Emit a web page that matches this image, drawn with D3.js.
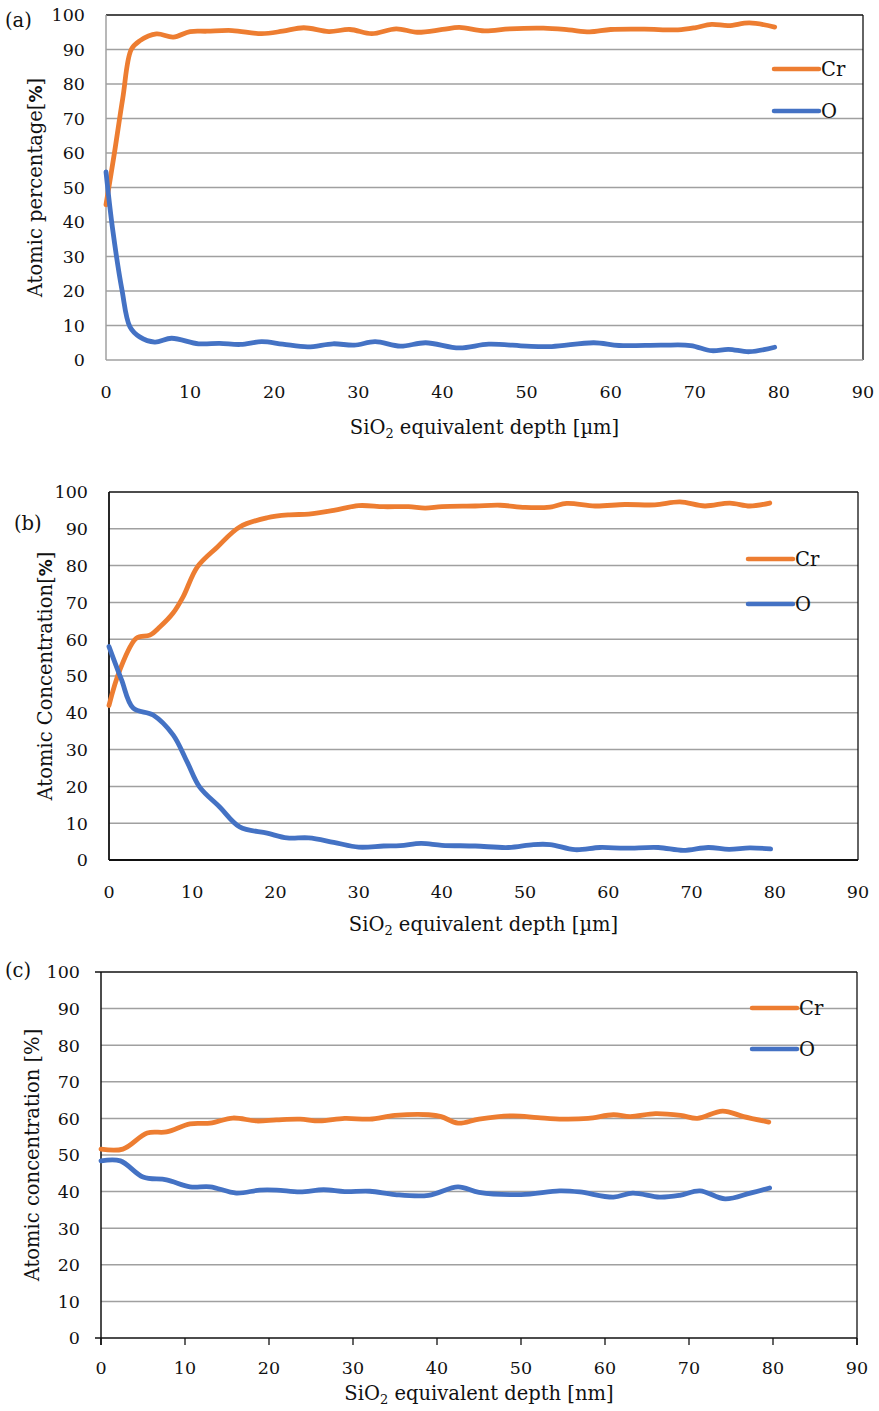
<!DOCTYPE html>
<html>
<head>
<meta charset="utf-8">
<script src="https://cdn.jsdelivr.net/npm/d3@7"></script>
<style>
  body { margin: 0; background: #fff; }
  svg text { font-family: "DejaVu Serif", "Liberation Serif", serif; fill: #111; }
</style>
</head>
<body>
<div id="chart"></div>
<script>
// ---- data ----
const seriesNames = ['Cr', 'O'];
const yTicks = [0, 10, 20, 30, 40, 50, 60, 70, 80, 90, 100];
const xTicks = [0, 10, 20, 30, 40, 50, 60, 70, 80, 90];

// panel (a)
const aCrX = [0, 1, 2, 3, 4, 6, 8, 10, 12, 15, 18.5, 21, 23.5, 26.5, 29, 31.6, 34.5, 37, 40, 42, 45, 48, 52, 55, 57.5, 60, 64, 68, 70, 72, 74, 76.5, 79.5];
const aCrY = [45, 60, 76, 90, 92.5, 94.5, 93.6, 95.2, 95.3, 95.5, 94.6, 95.3, 96.3, 95.2, 95.8, 94.6, 96, 95, 95.8, 96.4, 95.4, 96, 96.2, 95.7, 95.1, 95.8, 95.9, 95.7, 96.3, 97.3, 96.9, 97.7, 96.5];
const aOX = [0, 0.8, 1.9, 2.85, 4, 5.8, 7.8, 11, 13.5, 16, 18.5, 21, 24, 27, 29.5, 32, 35, 38, 42, 45.5, 50, 53, 58, 61, 66, 69.5, 72, 74, 76.5, 79.5];
const aOY = [54.5, 37.7, 20.3, 9.6, 6.7, 5.2, 6.3, 4.7, 4.8, 4.5, 5.3, 4.6, 3.8, 4.7, 4.3, 5.3, 4, 5, 3.5, 4.6, 4, 3.9, 5, 4.2, 4.3, 4.2, 2.7, 3.1, 2.4, 3.7];

// panel (b)
const bCrX = [0, 1.3, 3.3, 4.9, 6.1, 7.7, 8.9, 10.6, 13, 15.7, 19, 21.7, 24, 27, 30, 33, 36, 38, 40, 44, 47, 50, 53, 55, 58.4, 62, 65.6, 68.6, 71.6, 74.6, 77, 79.4];
const bCrY = [42, 51.6, 60.3, 61.1, 63.3, 67.1, 71.5, 79.6, 85, 90.5, 93, 93.8, 94, 95, 96.3, 96, 96, 95.6, 96, 96.2, 96.4, 95.8, 95.9, 96.9, 96.2, 96.6, 96.5, 97.3, 96.2, 97, 96.2, 97];
const bOX = [0, 1.5, 2.9, 5.3, 7.7, 9.4, 10.9, 13.3, 15.7, 19, 21.4, 24, 27, 30, 33, 35, 37.5, 40, 44, 48, 51, 53, 56, 59, 62, 66, 69, 72, 74.5, 77, 79.5];
const bOY = [58, 49, 41.3, 39.4, 34, 26.6, 19.8, 14.4, 9, 7.3, 6, 6, 4.8, 3.5, 3.8, 3.9, 4.5, 4, 3.8, 3.4, 4.2, 4.2, 2.8, 3.4, 3.2, 3.4, 2.6, 3.4, 2.9, 3.3, 3];

// panel (c)
const cCrX = [0, 2.6, 5.5, 7.8, 10.6, 13, 15.7, 18.5, 20.9, 23.7, 26, 29, 32, 35, 39, 40.5, 42.5, 45, 49, 52, 55, 58, 61, 63, 66, 69, 71, 74, 76.5, 79.5];
const cCrY = [51.6, 51.6, 56, 56.3, 58.5, 58.7, 60.1, 59.3, 59.6, 59.8, 59.3, 60, 59.8, 60.8, 61, 60.5, 58.7, 59.8, 60.7, 60.2, 59.8, 60, 61, 60.5, 61.3, 60.8, 60, 62, 60.5, 59];
const cOX = [0, 2.3, 5, 7.8, 10.6, 13, 16.1, 18.9, 20.9, 23.7, 26.5, 29, 32, 35, 39, 42.5, 45, 50, 54.6, 57, 61, 63.3, 66.5, 68.9, 71.3, 74.3, 77.3, 79.6];
const cOY = [48.4, 48.4, 44, 43.2, 41.3, 41.3, 39.6, 40.4, 40.4, 39.9, 40.5, 40, 40.1, 39.2, 39, 41.3, 39.8, 39.2, 40.2, 39.9, 38.5, 39.6, 38.5, 39, 40.2, 38, 39.6, 41];

const colour = d3.scaleOrdinal().domain(seriesNames).range(['#ED7D31', '#4472C4']);
const tickSize = 17.5;
const titleSize = 19.5;

const svg = d3.select('#chart').append('svg')
  .attr('width', 879)
  .attr('height', 1411);

const zip = (xs, ys) => xs.map((x, i) => ({ x: x, y: ys[i] }));

function drawPanel(cfg) {
  const x = d3.scaleLinear().domain([0, 90]).range([cfg.left, cfg.right]);
  const y = d3.scaleLinear().domain([0, 100]).range([cfg.bottom, cfg.top]);
  const g = svg.append('g');

  // gridlines
  g.selectAll('.grid')
    .data(yTicks.filter(d => d > 0 && d < 100))
    .join('line')
      .attr('x1', cfg.left).attr('x2', cfg.right)
      .attr('y1', d => y(d)).attr('y2', d => y(d))
      .attr('stroke', '#a0a0a0')
      .attr('stroke-width', 1.5);

  // frame
  g.append('line').attr('x1', cfg.left - cfg.yTickOut).attr('x2', cfg.right)
    .attr('y1', cfg.top).attr('y2', cfg.top).attr('stroke', '#111').attr('stroke-width', 1.3);
  g.append('line').attr('x1', cfg.right).attr('x2', cfg.right)
    .attr('y1', cfg.top).attr('y2', cfg.bottom + cfg.xTickOut).attr('stroke', '#111').attr('stroke-width', 1.3);
  g.append('line').attr('x1', cfg.left).attr('x2', cfg.left)
    .attr('y1', cfg.top).attr('y2', cfg.bottom + cfg.xTickOut).attr('stroke', cfg.axisColour).attr('stroke-width', cfg.axisWidth);
  g.append('line').attr('x1', cfg.left - cfg.yTickOut).attr('x2', cfg.right)
    .attr('y1', cfg.bottom).attr('y2', cfg.bottom).attr('stroke', cfg.axisColour).attr('stroke-width', cfg.axisWidth);

  // x tick marks (panel c only)
  if (cfg.xTickOut > 0) {
    g.selectAll('.xtick')
      .data(xTicks)
      .join('line')
        .attr('x1', d => x(d)).attr('x2', d => x(d))
        .attr('y1', cfg.bottom).attr('y2', cfg.bottom + cfg.xTickOut)
        .attr('stroke', '#111').attr('stroke-width', 1.3);
  }

  // tick labels
  g.selectAll('.ylab')
    .data(yTicks)
    .join('text')
      .attr('x', cfg.yLabelX)
      .attr('y', d => y(d))
      .attr('dy', '0.36em')
      .attr('text-anchor', 'end')
      .attr('font-size', tickSize)
      .text(d => d);

  g.selectAll('.xlab')
    .data(xTicks)
    .join('text')
      .attr('x', d => x(d))
      .attr('y', cfg.xLabelY)
      .attr('dy', '0.36em')
      .attr('text-anchor', 'middle')
      .attr('font-size', tickSize)
      .text(d => d);

  // x title
  const xt = g.append('text')
    .attr('x', (cfg.left + cfg.right) / 2)
    .attr('y', cfg.xTitleY)
    .attr('dy', '0.36em')
    .attr('text-anchor', 'middle')
    .attr('font-size', titleSize);
  xt.append('tspan').text('SiO');
  xt.append('tspan').attr('font-size', 13).attr('dy', '0.3em').text('2');
  xt.append('tspan').attr('dy', '-0.2em').text(' equivalent depth ' + cfg.unit);

  // y title
  const yt = g.append('text')
    .attr('transform', `translate(${cfg.yTitleX}, ${(cfg.top + cfg.bottom) / 2}) rotate(-90)`)
    .attr('dy', '0.36em')
    .attr('text-anchor', 'middle')
    .attr('font-size', titleSize);
  yt.append('tspan').text(cfg.yTitle + '[');
  if (cfg.boldPct) {
    yt.append('tspan').attr('font-weight', 'bold').style('font-family', 'DejaVu Sans, sans-serif').attr('font-size', 17).text('%');
  } else {
    yt.append('tspan').text('%');
  }
  yt.append('tspan').text(']');

  // panel letter
  g.append('text')
    .attr('x', cfg.letterX).attr('y', cfg.letterY)
    .attr('dy', '0.36em')
    .attr('font-size', titleSize)
    .text(cfg.letter);

  // lines
  const line = d3.line()
    .x(d => x(d.x))
    .y(d => y(d.y))
    .curve(d3.curveCatmullRom.alpha(0.5));

  g.selectAll('.series')
    .data(cfg.series)
    .join('path')
      .attr('fill', 'none')
      .attr('stroke', d => colour(d.name))
      .attr('stroke-width', 4.8)
      .attr('stroke-linecap', 'round')
      .attr('stroke-linejoin', 'round')
      .attr('d', d => line(d.values));

  // legend
  const lg = g.selectAll('.legend')
    .data(cfg.series.map(d => d.name))
    .join('g')
      .attr('transform', (d, i) => `translate(${cfg.legendX}, ${cfg.legendY[i]})`);
  lg.append('line')
    .attr('x1', 0).attr('x2', 45)
    .attr('stroke', d => colour(d))
    .attr('stroke-width', 4.5)
    .attr('stroke-linecap', 'round');
  lg.append('text')
    .attr('x', 47)
    .attr('dy', '0.36em')
    .attr('font-size', titleSize)
    .text(d => d);
}

drawPanel({
  left: 106, right: 863, top: 15, bottom: 360,
  axisColour: '#a0a0a0', axisWidth: 1.5, xTickOut: 0, yTickOut: 0,
  yLabelX: 85, xLabelY: 392, xTitleY: 427, yTitleX: 35,
  yTitle: 'Atomic percentage', boldPct: true, unit: '[\u00b5m]',
  letter: '(a)', letterX: 5, letterY: 20,
  legendX: 774, legendY: [69, 111],
  series: [
    { name: 'Cr', values: zip(aCrX, aCrY) },
    { name: 'O', values: zip(aOX, aOY) }
  ]
});

drawPanel({
  left: 109, right: 858, top: 492, bottom: 860,
  axisColour: '#111', axisWidth: 1.8, xTickOut: 0, yTickOut: 0,
  yLabelX: 88, xLabelY: 892, xTitleY: 924, yTitleX: 45,
  yTitle: 'Atomic Concentration', boldPct: true, unit: '[\u00b5m]',
  letter: '(b)', letterX: 14, letterY: 523,
  legendX: 748, legendY: [559, 604],
  series: [
    { name: 'Cr', values: zip(bCrX, bCrY) },
    { name: 'O', values: zip(bOX, bOY) }
  ]
});

drawPanel({
  left: 101, right: 857, top: 972, bottom: 1338,
  axisColour: '#111', axisWidth: 1.5, xTickOut: 7, yTickOut: 6,
  yLabelX: 80, xLabelY: 1368, xTitleY: 1393, yTitleX: 32,
  yTitle: 'Atomic concentration ', boldPct: false, unit: '[nm]',
  letter: '(c)', letterX: 5, letterY: 970,
  legendX: 752, legendY: [1008, 1049],
  series: [
    { name: 'Cr', values: zip(cCrX, cCrY) },
    { name: 'O', values: zip(cOX, cOY) }
  ]
});
</script>
</body>
</html>
